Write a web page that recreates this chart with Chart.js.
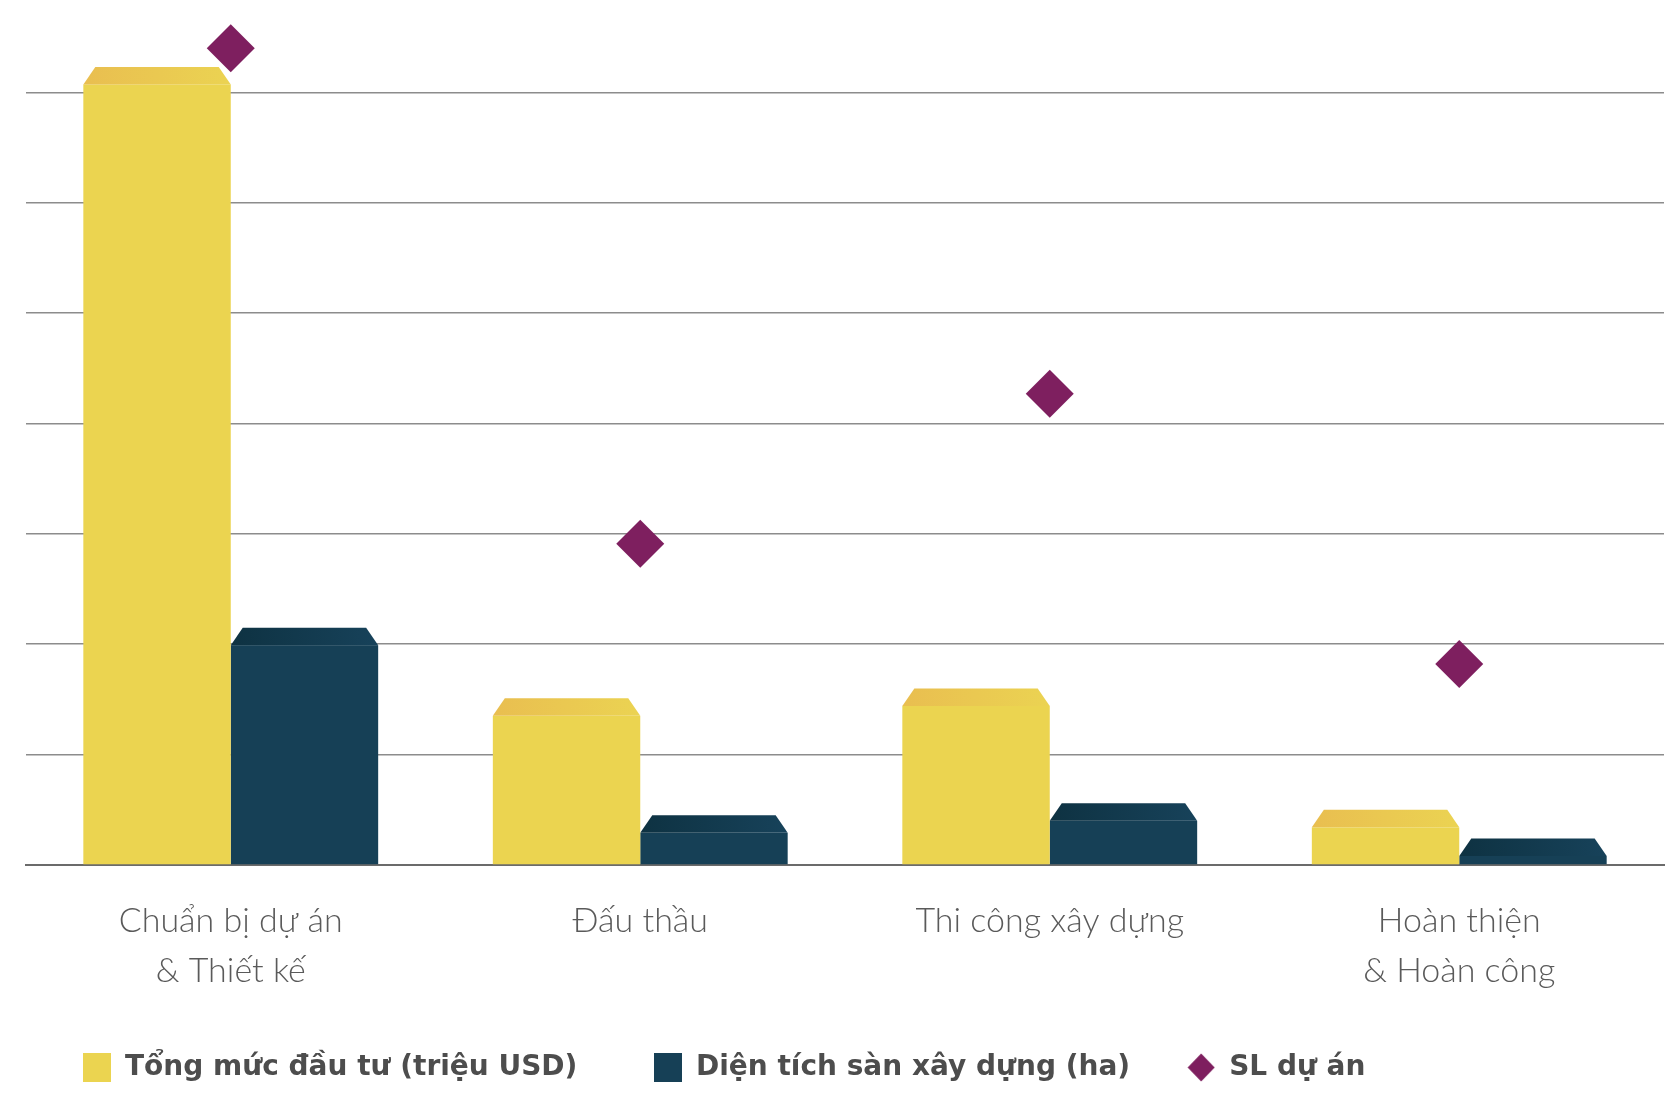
<!DOCTYPE html>
<html>
<head>
<meta charset="utf-8">
<script src="https://cdn.jsdelivr.net/npm/chart.js@4.4.1/dist/chart.umd.min.js"></script>
<style>
  html, body { margin: 0; padding: 0; background: #fff; }
  #wrap { width: 1671px; height: 1093px; }
</style>
</head>
<body>
<div id="wrap"><canvas id="bar_chart"></canvas></div>
<script>
// du lieu doc tu hinh
var categories = [["Chuẩn bị dự án", "& Thiết kế"], "Đấu thầu", "Thi công xây dựng", ["Hoàn thiện", "& Hoàn công"]];
var tongMucDauTu = [72.3, 15.1, 16.0, 5.0];
var dienTichSan = [21.5, 4.5, 5.6, 2.4];
var slDuAn = [74.0, 29.1, 42.7, 18.2];
var seriesNames = ["Tổng mức đầu tư (triệu USD)", "Diện tích sàn xây dựng (ha)", "SL dự án"];

var yellow = "#EBD450";
var navy = "#164056";
var purple = "#7E1F5F";

// o vuong / hinh thoi cho legend
function legendMark(color, shape) {
    var c = document.createElement("canvas");
    c.width = 28;
    c.height = 29;
    var x = c.getContext("2d");
    x.fillStyle = color;
    if (shape == "diamond") {
        x.beginPath();
        x.moveTo(14, 0.5);
        x.lineTo(27.5, 14.5);
        x.lineTo(14, 28.5);
        x.lineTo(0.5, 14.5);
        x.closePath();
        x.fill();
    } else {
        x.fillRect(0, 0, 28, 29);
    }
    return c;
}
var marks = [legendMark(yellow), legendMark(navy), legendMark(purple, "diamond")];

// cot co mat tren vat goc
var bevelBars = {
    id: "bevelBars",
    beforeDatasetDraw: function(chart, args) {
        var meta = args.meta;
        if (meta.type !== "bar") return;
        var ds = chart.data.datasets[args.index];
        var ctx = chart.ctx;
        var h = 17.5, inset = 12;
        ctx.save();
        meta.data.forEach(function(bar) {
            var p = bar.getProps(["x", "y", "base", "width"], true);
            var left = p.x - p.width / 2;
            var right = p.x + p.width / 2;
            ctx.fillStyle = ds.backgroundColor;
            ctx.fillRect(left, p.y + h, right - left, p.base - p.y - h);
            var g = ctx.createLinearGradient(left, 0, right, 0);
            g.addColorStop(0, ds.topFrom);
            g.addColorStop(1, ds.topTo);
            ctx.fillStyle = g;
            ctx.beginPath();
            ctx.moveTo(left, p.y + h);
            ctx.lineTo(left + inset, p.y);
            ctx.lineTo(right - inset, p.y);
            ctx.lineTo(right, p.y + h);
            ctx.closePath();
            ctx.fill();
        });
        ctx.restore();
        return false;
    }
};

var ctx = document.getElementById("bar_chart");
var data = {
    labels: categories,
    datasets: [{
        type: "line",
        label: seriesNames[2],
        data: slDuAn,
        showLine: false,
        clip: false,
        pointStyle: "rectRot",
        pointRadius: 24,
        pointBackgroundColor: purple,
        pointBorderWidth: 0,
        backgroundColor: purple,
        order: 0
    }, {
        type: "bar",
        label: seriesNames[0],
        data: tongMucDauTu,
        backgroundColor: yellow,
        topFrom: "#E9BE50",
        topTo: "#EBD352",
        order: 1
    }, {
        type: "bar",
        label: seriesNames[1],
        data: dienTichSan,
        backgroundColor: navy,
        topFrom: "#0E3242",
        topTo: "#17425A",
        order: 2
    }]
};

var legendOrder = [1, 2, 0];
var legendGap = ["  ", "", ""];

var options = {
    responsive: true,
    maintainAspectRatio: false,
    animation: false,
    layout: { autoPadding: false, padding: { left: 26, right: 7, top: 4, bottom: 1.5 } },
    datasets: { bar: { categoryPercentage: 0.72, barPercentage: 1 } },
    scales: {
        x: {
            grid: { display: false, drawTicks: false },
            border: { display: true, color: "#6b6b6b", width: 2 },
            ticks: {
                padding: 31,
                color: "#5a5a5a",
                maxRotation: 0,
                autoSkip: false,
                font: { family: "Lato", size: 34, weight: "300", lineHeight: 1.47 }
            },
            afterFit: function(scale) {
                scale.height = 131.5;
            }
        },
        y: {
            min: 0,
            max: 78,
            border: { display: false },
            grid: {
                drawTicks: false,
                lineWidth: 1.5,
                color: function(c) {
                    var v = c.tick ? c.tick.value : 0;
                    return (v > 0 && v <= 70) ? "#8c8c8c" : "rgba(0,0,0,0)";
                }
            },
            ticks: { display: false, stepSize: 10 }
        }
    },
    plugins: {
        tooltip: { enabled: false },
        legend: {
            display: true,
            position: "bottom",
            align: "start",
            labels: {
                usePointStyle: true,
                boxWidth: 28,
                boxHeight: 29,
                padding: 57,
                color: "#4d4d4d",
                font: { family: "DejaVu Sans", size: 28, weight: "bold" },
                generateLabels: function(chart) {
                    return legendOrder.map(function(i, k) {
                        return {
                            text: chart.data.datasets[i].label + legendGap[k],
                            pointStyle: marks[k],
                            datasetIndex: i,
                            fontColor: "#4d4d4d",
                            lineWidth: 0,
                            hidden: false
                        };
                    });
                }
            }
        }
    }
};

var chart = new Chart(ctx, {
    data: data,
    options: options,
    plugins: [bevelBars]
});
</script>
</body>
</html>
